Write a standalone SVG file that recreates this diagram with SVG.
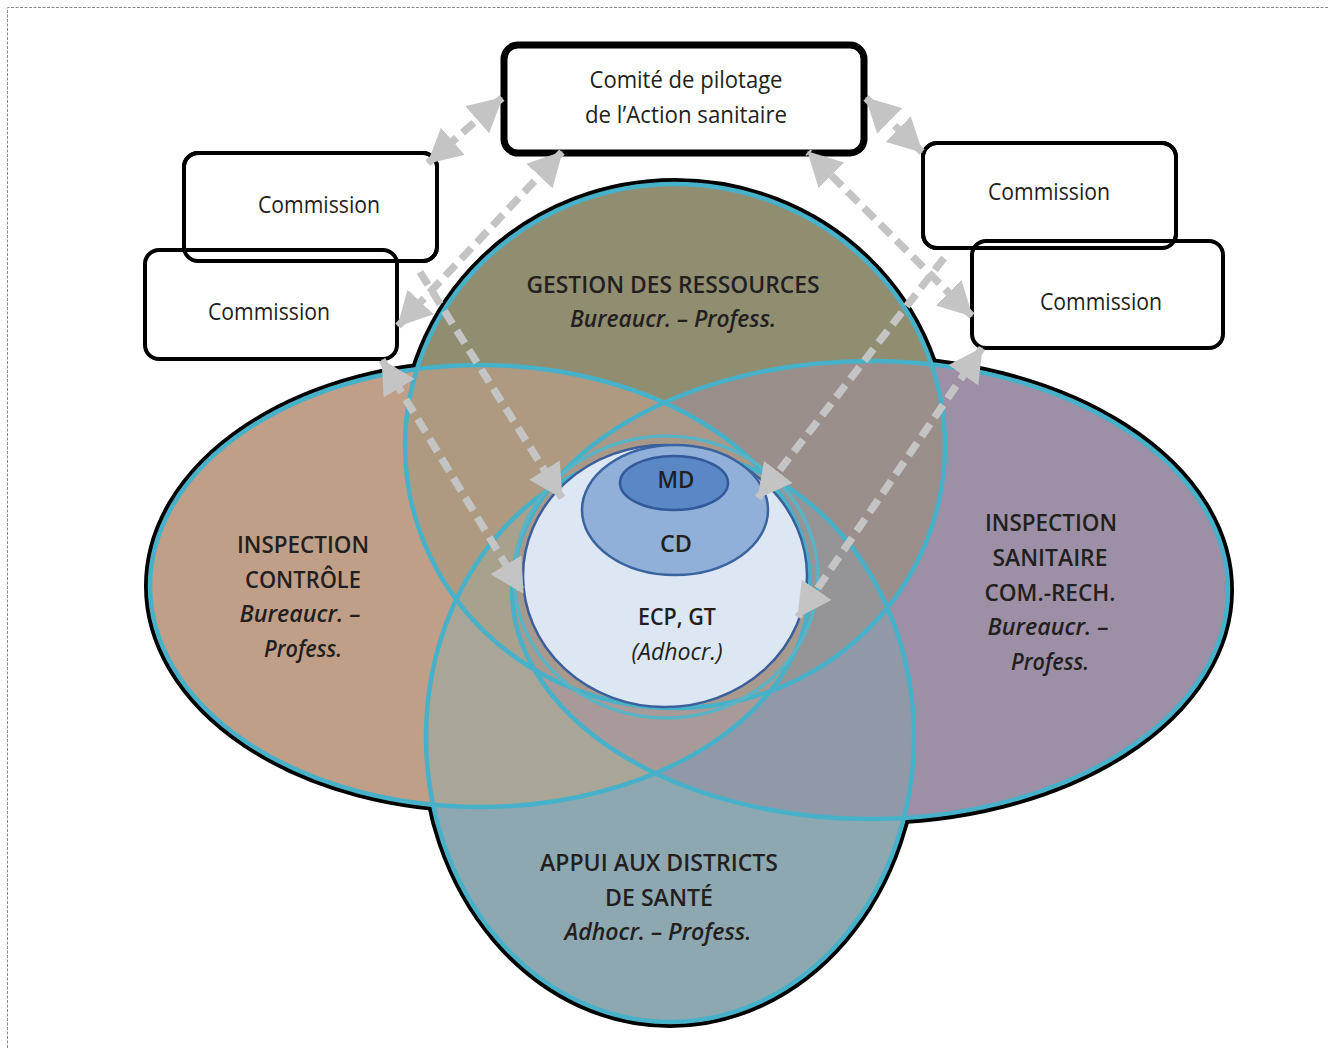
<svg xmlns="http://www.w3.org/2000/svg" width="1328" height="1048" viewBox="0 0 1328 1048">
<style>
.t{font-family:"Open Sans","Noto Sans","Liberation Sans",sans-serif;fill:#231f20;text-anchor:middle}
.cap{font-size:24px;font-weight:600}
.it{font-size:23px;font-style:italic;font-weight:600}
.cm{font-size:23px}
.box{fill:#fff;stroke:#000;stroke-width:4}
.blk{fill:none;stroke:#000;stroke-width:12}
.teal{fill:none;stroke:#46b1c9;stroke-width:4.5}
.arr{fill:none;stroke:#c4c4c4;stroke-width:7.5;stroke-dasharray:15 8}
</style>
<defs>
<marker id="ah" viewBox="0 0 34 36" refX="33" refY="18" markerWidth="34" markerHeight="36" markerUnits="userSpaceOnUse" orient="auto-start-reverse">
<path d="M0,0 L34,18 L0,36 z" fill="#c4c4c4"/>
</marker>
<ellipse id="eT" cx="675" cy="446" rx="270" ry="262"/>
<ellipse id="eL" cx="480" cy="586" rx="330" ry="221"/>
<ellipse id="eR" cx="870" cy="590" rx="358" ry="229"/>
<ellipse id="eB" cx="670" cy="737" rx="244" ry="285"/>
<clipPath id="cT"><use href="#eT"/></clipPath>
<clipPath id="cL"><use href="#eL"/></clipPath>
<clipPath id="cR"><use href="#eR"/></clipPath>
<clipPath id="cB"><use href="#eB"/></clipPath>
</defs>
<rect width="1328" height="1048" fill="#fff"/>
<path d="M7.5,1048 V7.5 H1328" fill="none" stroke="#8a8a8a" stroke-width="1" stroke-dasharray="3 1.5"/>

<g id="regions">
<g class="blk">
<use href="#eL"/><use href="#eR"/><use href="#eT"/><use href="#eB"/>
</g>
<use href="#eL" fill="#c09f88"/>
<use href="#eR" fill="#9d8fa5"/>
<use href="#eT" fill="#918d70"/>
<use href="#eB" fill="#8da8b1"/>
<g clip-path="url(#cL)"><use href="#eR" fill="#ae9a94"/></g>
<g clip-path="url(#cL)"><use href="#eT" fill="#ae9a80"/></g>
<g clip-path="url(#cR)"><use href="#eT" fill="#9b8f8b"/></g>
<g clip-path="url(#cL)"><use href="#eB" fill="#a9a597"/></g>
<g clip-path="url(#cR)"><use href="#eB" fill="#9199a8"/></g>
<g clip-path="url(#cL)"><g clip-path="url(#cR)"><use href="#eT" fill="#a99888"/></g></g>
<g clip-path="url(#cL)"><g clip-path="url(#cR)"><use href="#eB" fill="#a89a98"/></g></g>
<g clip-path="url(#cL)"><g clip-path="url(#cT)"><use href="#eB" fill="#a8a18e"/></g></g>
<g clip-path="url(#cR)"><g clip-path="url(#cT)"><use href="#eB" fill="#959597"/></g></g>
<g clip-path="url(#cL)"><g clip-path="url(#cR)"><g clip-path="url(#cT)"><use href="#eB" fill="#a8998e"/></g></g></g>
<g class="teal">
<use href="#eL"/><use href="#eR"/><use href="#eT"/><use href="#eB"/>
</g>
<ellipse cx="666" cy="577" rx="152" ry="141" fill="none" stroke="#5ab3c4" stroke-width="3.5"/>
</g>

<g id="core">
<ellipse cx="665" cy="576" rx="142" ry="131" fill="#dde6f3" stroke="#3a5f9a" stroke-width="2.5"/>
<ellipse cx="675" cy="510" rx="93" ry="65" fill="#90b0da" stroke="#3a64a0" stroke-width="2.5"/>
<ellipse cx="674" cy="483" rx="54" ry="27" fill="#5a88c6" stroke="#33599a" stroke-width="2.5"/>
<text class="t" x="676" y="488" font-size="23" font-weight="600" textLength="37" lengthAdjust="spacingAndGlyphs">MD</text>
<text class="t" x="676" y="552" font-size="23" font-weight="600" textLength="32" lengthAdjust="spacingAndGlyphs">CD</text>
<text class="t" x="677" y="625" font-size="23" font-weight="600" textLength="78" lengthAdjust="spacingAndGlyphs">ECP, GT</text>
<text class="t" x="677" y="660" font-size="23" font-style="italic" textLength="91" lengthAdjust="spacingAndGlyphs">(Adhocr.)</text>
</g>

<g id="gestion">
<text class="t cap" x="673" y="293" textLength="293" lengthAdjust="spacingAndGlyphs">GESTION DES RESSOURCES</text>
<text class="t it" x="673" y="327" textLength="206" lengthAdjust="spacingAndGlyphs">Bureaucr. – Profess.</text>
</g>
<g id="inspection-controle">
<text class="t cap" x="303" y="553" textLength="132" lengthAdjust="spacingAndGlyphs">INSPECTION</text>
<text class="t cap" x="303" y="588" textLength="116" lengthAdjust="spacingAndGlyphs">CONTRÔLE</text>
<text class="t it" x="300" y="622" textLength="121" lengthAdjust="spacingAndGlyphs">Bureaucr. –</text>
<text class="t it" x="303" y="657" textLength="78" lengthAdjust="spacingAndGlyphs">Profess.</text>
</g>
<g id="inspection-sanitaire">
<text class="t cap" x="1051" y="531" textLength="132" lengthAdjust="spacingAndGlyphs">INSPECTION</text>
<text class="t cap" x="1050" y="566" textLength="115" lengthAdjust="spacingAndGlyphs">SANITAIRE</text>
<text class="t cap" x="1050" y="601" textLength="131" lengthAdjust="spacingAndGlyphs">COM.-RECH.</text>
<text class="t it" x="1048" y="635" textLength="121" lengthAdjust="spacingAndGlyphs">Bureaucr. –</text>
<text class="t it" x="1050" y="670" textLength="78" lengthAdjust="spacingAndGlyphs">Profess.</text>
</g>
<g id="appui">
<text class="t cap" x="659" y="871" textLength="238" lengthAdjust="spacingAndGlyphs">APPUI AUX DISTRICTS</text>
<text class="t cap" x="659" y="906" textLength="108" lengthAdjust="spacingAndGlyphs">DE SANTÉ</text>
<text class="t it" x="658" y="940" textLength="187" lengthAdjust="spacingAndGlyphs">Adhocr. – Profess.</text>
</g>

<g id="comite">
<rect x="504" y="45" width="360" height="108" rx="14" fill="#fff" stroke="#000" stroke-width="7"/>
<text class="t cm" x="686" y="88" textLength="193" lengthAdjust="spacingAndGlyphs">Comité de pilotage</text>
<text class="t cm" x="686" y="123" textLength="202" lengthAdjust="spacingAndGlyphs">de l’Action sanitaire</text>
</g>
<g id="commissions">
<rect class="box" x="184" y="153" width="253" height="108" rx="14"/>
<rect class="box" x="145" y="250" width="252" height="109" rx="14"/>
<rect x="184" y="153" width="253" height="108" rx="14" fill="none" stroke="#000" stroke-width="4"/>
<rect class="box" x="923" y="143" width="253" height="105" rx="14"/>
<rect class="box" x="972" y="241" width="251" height="107" rx="14"/>
<rect x="923" y="143" width="253" height="105" rx="14" fill="none" stroke="#000" stroke-width="4"/>
</g>
<g id="commission-lt"><text class="t cm" x="319" y="213" textLength="122" lengthAdjust="spacingAndGlyphs">Commission</text></g>
<g id="commission-lb"><text class="t cm" x="269" y="320" textLength="122" lengthAdjust="spacingAndGlyphs">Commission</text></g>
<g id="commission-rt"><text class="t cm" x="1049" y="200" textLength="122" lengthAdjust="spacingAndGlyphs">Commission</text></g>
<g id="commission-rb"><text class="t cm" x="1101" y="310" textLength="122" lengthAdjust="spacingAndGlyphs">Commission</text></g>

<g id="connectors" class="arr">
<line x1="428" y1="163" x2="502" y2="98" marker-start="url(#ah)" marker-end="url(#ah)"/>
<line x1="398" y1="326" x2="562" y2="152" marker-start="url(#ah)" marker-end="url(#ah)"/>
<line x1="922" y1="152" x2="866" y2="98" marker-start="url(#ah)" marker-end="url(#ah)"/>
<line x1="972" y1="316" x2="808" y2="152" marker-start="url(#ah)" marker-end="url(#ah)"/>
<line x1="420" y1="272" x2="562" y2="498" marker-end="url(#ah)"/>
<line x1="382" y1="360" x2="523" y2="593" marker-start="url(#ah)" marker-end="url(#ah)"/>
<line x1="944" y1="258" x2="758" y2="498" marker-end="url(#ah)"/>
<line x1="982" y1="348" x2="798" y2="617" marker-start="url(#ah)" marker-end="url(#ah)"/>
</g>
</svg>
